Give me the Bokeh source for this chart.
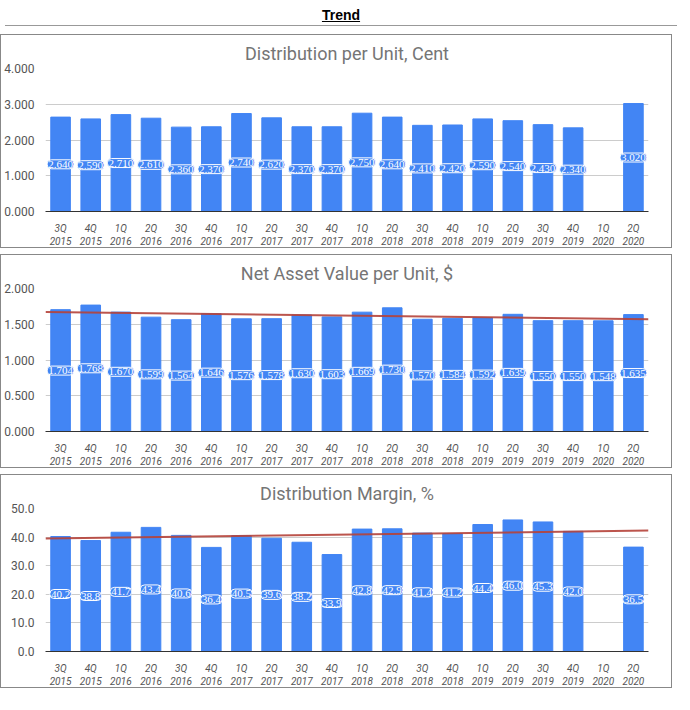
import numpy as np
from bokeh.plotting import figure
from bokeh.layouts import column
from bokeh.models import Div, NumeralTickFormatter, FixedTicker, ColumnDataSource, Range1d
from bokeh.embed import file_html
from bokeh.resources import INLINE

quarters = ["3Q\n2015","4Q\n2015","1Q\n2016","2Q\n2016","3Q\n2016","4Q\n2016","1Q\n2017","2Q\n2017",
            "3Q\n2017","4Q\n2017","1Q\n2018","2Q\n2018","3Q\n2018","4Q\n2018","1Q\n2019","2Q\n2019",
            "3Q\n2019","4Q\n2019","1Q\n2020","2Q\n2020"]
dpu = [2.640,2.590,2.710,2.610,2.360,2.370,2.740,2.620,2.370,2.370,2.750,2.640,2.410,2.420,2.590,2.540,2.430,2.340,None,3.020]
nav = [1.704,1.768,1.670,1.599,1.564,1.646,1.576,1.578,1.630,1.603,1.669,1.730,1.570,1.584,1.592,1.639,1.550,1.550,1.548,1.635]
margin = [40.2,38.8,41.7,43.4,40.6,36.4,40.5,39.6,38.2,33.9,42.8,42.9,41.4,41.2,44.4,46.0,45.3,42.0,None,36.5]

BLUE = "#4285f4"
W = 672

def panel(title, vals, ymax, step, fmt, lblfmt, trend):
    p = figure(x_range=quarters, width=W, height=214, output_backend="svg", toolbar_location=None,
               title=title, y_range=Range1d(0, ymax), min_border_left=10, min_border_right=25,
               min_border_bottom=5)
    p.styles = {"border": "1px solid #888888"}
    p.title.align = "center"
    p.title.text_font = "Roboto"
    p.title.text_font_size = "18px"
    p.title.text_font_style = "normal"
    p.title.text_color = "#757575"
    idx = [i for i, v in enumerate(vals) if v is not None]
    xs = [quarters[i] for i in idx]
    ys = [vals[i] for i in idx]
    src = ColumnDataSource(dict(x=xs, top=ys, mid=[y / 2 for y in ys], lbl=[lblfmt.format(y) for y in ys]))
    p.vbar(x="x", top="top", width=0.65, color=BLUE, source=src)
    if trend:
        xi = np.array(idx, dtype=float)
        a, b = np.polyfit(xi, np.array(ys), 1)
        xx = np.array([-0.5, 19.5])
        p.line(xx + 0.5, a * xx + b, line_color="#b5423a", line_width=2, line_alpha=0.9)
    p.text(x="x", y="mid", text="lbl", source=src, text_align="center", text_baseline="middle",
           text_color="white", text_font_size="11px", text_font="Roboto",
           background_fill_color=BLUE, border_line_color="white", border_line_width=1,
           border_radius=4, padding=1)
    p.yaxis.ticker = FixedTicker(ticks=list(np.arange(0, ymax + step / 2, step)))
    p.yaxis.formatter = NumeralTickFormatter(format=fmt)
    p.yaxis.major_label_text_font_size = "12px"
    p.yaxis.major_label_text_font = "Roboto"
    p.yaxis.major_label_text_color = "#555555"
    p.yaxis.axis_line_color = None
    p.yaxis.major_tick_line_color = None
    p.yaxis.minor_tick_line_color = None
    p.xaxis.major_label_text_font_style = "italic"
    p.xaxis.major_label_text_font_size = "10px"
    p.xaxis.major_label_text_font = "Roboto"
    p.xaxis.major_label_text_color = "#555555"
    p.xaxis.major_tick_line_color = None
    p.xaxis.axis_line_color = "#333333"
    p.xgrid.grid_line_color = None
    p.ygrid.grid_line_color = "#cccccc"
    p.outline_line_color = None
    return p

p1 = panel("Distribution per Unit, Cent", dpu, 4.0, 1.0, "0.000", "{:.3f}", False)
p2 = panel("Net Asset Value per Unit, $", nav, 2.0, 0.5, "0.000", "{:.3f}", True)
p3 = panel("Distribution Margin, %", margin, 50.0, 10.0, "0.0", "{:.1f}", True)

head = Div(text="<div style='width:%dpx;text-align:center;font-family:Arial;font-weight:bold;text-decoration:underline;font-size:14px;border-bottom:1px solid #999'>Trend</div>" % W,
           width=W, height=18)
lay = column(head, p1, p2, p3, spacing=6)
open("out.html", "w").write(file_html(lay, INLINE))
